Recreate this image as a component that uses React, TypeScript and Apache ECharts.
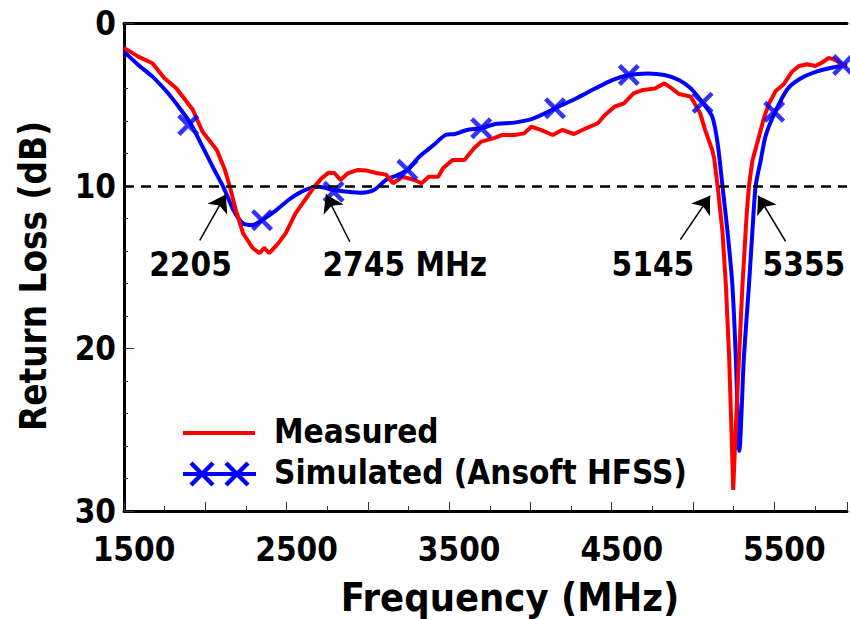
import React, { useEffect, useRef } from 'react';
import * as echarts from 'echarts';

// Measured return loss (red)
const measuredFreq = [1500, 1588, 1675, 1749, 1822, 1924, 1983, 2071, 2121, 2150, 2188, 2232, 2290, 2334, 2363, 2393, 2451, 2495, 2554, 2613, 2671, 2715, 2759, 2794, 2832, 2876, 2935, 2994, 3052, 3111, 3155, 3213, 3286, 3331, 3374, 3433, 3462, 3521, 3594, 3653, 3697, 3770, 3828, 3901, 3961, 4005, 4063, 4137, 4195, 4268, 4342, 4414, 4458, 4517, 4575, 4634, 4693, 4766, 4824, 4869, 4913, 4986, 5044, 5074, 5118, 5130, 5151, 5181, 5202, 5222, 5236, 5247, 5263, 5283, 5304, 5330, 5344, 5365, 5395, 5436, 5467, 5508, 5559, 5610, 5651, 5702, 5753, 5794, 5835, 5876, 5917, 5947];
const measuredRL = [1.5, 2.04, 2.45, 3.37, 3.99, 5.32, 6.66, 7.78, 9.02, 10.0, 11.48, 12.9, 13.8, 14.14, 13.8, 14.14, 13.5, 12.9, 11.7, 10.86, 10.04, 9.53, 9.18, 9.2, 9.63, 9.22, 9.02, 9.05, 9.2, 9.3, 9.83, 9.43, 9.63, 9.83, 9.43, 9.43, 8.91, 8.4, 8.4, 7.68, 7.27, 7.07, 6.86, 6.86, 6.76, 6.35, 6.55, 6.86, 6.55, 6.8, 6.45, 6.14, 5.63, 5.12, 4.91, 4.3, 4.09, 4.0, 3.68, 3.99, 4.34, 4.5, 5.53, 6.55, 7.78, 8.3, 10.0, 12.8, 16.1, 20.5, 24.9, 28.7, 24.9, 20.5, 16.1, 11.74, 10.0, 8.44, 7.35, 5.81, 4.93, 4.16, 3.72, 2.95, 2.62, 2.51, 2.62, 2.4, 2.12, 2.25, 2.51, 2.62];

// Simulated return loss (blue)
const simFreq = [1500, 1588, 1675, 1763, 1836, 1909, 1983, 2056, 2115, 2173, 2232, 2291, 2349, 2437, 2525, 2613, 2701, 2789, 2876, 2964, 3037, 3111, 3183, 3243, 3316, 3404, 3477, 3535, 3609, 3697, 3785, 3901, 4019, 4151, 4283, 4400, 4503, 4605, 4722, 4825, 4913, 4986, 5059, 5118, 5151, 5181, 5212, 5242, 5263, 5285, 5313, 5344, 5365, 5385, 5416, 5446, 5498, 5580, 5661, 5763, 5865, 5947];
const simRL = [1.73, 2.55, 3.27, 4.2, 5.12, 6.14, 7.58, 9.02, 10.14, 11.48, 12.3, 12.4, 12.1, 11.48, 10.76, 10.25, 10.05, 10.25, 10.35, 10.41, 10.25, 9.63, 9.32, 9.02, 8.2, 7.48, 6.86, 6.8, 6.55, 6.45, 6.18, 6.1, 5.84, 5.22, 4.6, 3.99, 3.48, 3.17, 3.07, 3.17, 3.48, 3.99, 4.87, 5.73, 7.35, 10.0, 12.8, 16.1, 20.5, 26.3, 20.5, 16.1, 12.8, 10.0, 8.44, 6.93, 5.6, 4.05, 3.39, 2.95, 2.69, 2.55];

// Simulated curve marker positions
const markerFreq = [1895, 2349, 2789, 3243, 3697, 4151, 4605, 5059, 5499, 5923];
const markerRL = [6.25, 12.1, 10.35, 9.0, 6.45, 5.22, 3.17, 4.87, 5.43, 2.55];

// Axis tick labels
const xTickLabels = [1500, 2500, 3500, 4500, 5500];
const yTickLabels = [0, 10, 20, 30];
const threshold = 10;

// Annotations
const annTexts = ['2205', '2745 MHz', '5145', '5355'];
const annLabelFreq = [1909, 3227, 4753, 5682];
const annLabelRL = [14.86, 14.86, 14.8, 14.8];
const annFromFreq = [1966, 2889, 4922, 5569];
const annFromRL = [13.35, 13.43, 13.3, 13.4];
const annToFreq = [2126, 2742, 5105, 5400];
const annToRL = [10.52, 10.52, 10.6, 10.6];

const FONT = '"DejaVu Sans Condensed", "DejaVu Sans", sans-serif';
const X_SYMBOL = 'path://M3.5,0 L12,8.5 L20.5,0 L24,3.5 L15.5,12 L24,20.5 L20.5,24 L12,15.5 L3.5,24 L0,20.5 L8.5,12 L0,3.5 Z';

export default function App() {
  const ref = useRef<HTMLDivElement>(null);
  useEffect(() => {
    if (!ref.current) return;
    const chart = echarts.init(ref.current, undefined, { renderer: 'svg' });
    const xMin = 1500;
    const xMax = 5947;
    const tickLabelStyle = { fontFamily: FONT, fontSize: 33, fontWeight: 'bold' as const, color: '#000' };
    const option: any = {
      animation: false,
      backgroundColor: '#fff',
      grid: { left: 124, top: 23.5, right: 0, bottom: 108, containLabel: false },
      xAxis: [
        {
          type: 'value', min: xMin, max: xMax, interval: 500,
          axisLine: { show: true, onZero: false, lineStyle: { color: '#000', width: 3 } },
          axisTick: { show: true, inside: true, length: 9, lineStyle: { color: '#333', width: 1 } },
          minorTick: { show: true, splitNumber: 2, length: 5, lineStyle: { color: '#333', width: 1 } },
          splitLine: { show: false },
          minorSplitLine: { show: false },
          axisLabel: {
            ...tickLabelStyle,
            margin: 22,
            padding: [0, 0, 0, 20],
            formatter: (v: number) => (xTickLabels.indexOf(v) >= 0 ? String(v) : ''),
          },
        },
        {
          type: 'value', position: 'top', min: xMin, max: xMax,
          axisLine: { show: true, onZero: false, lineStyle: { color: '#000', width: 3 } },
          axisTick: { show: false }, axisLabel: { show: false }, splitLine: { show: false },
        },
      ],
      yAxis: {
        type: 'value', inverse: true, min: 0, max: 30, interval: 10,
        axisLine: { show: true, onZero: false, lineStyle: { color: '#000', width: 3 } },
        axisTick: { show: true, inside: true, length: 10, lineStyle: { color: '#333', width: 1 } },
        minorTick: { show: true, splitNumber: 5, length: 4, lineStyle: { color: '#333', width: 1 } },
        splitLine: { show: false },
        axisLabel: {
          ...tickLabelStyle,
          margin: 8,
          formatter: (v: number) => (yTickLabels.indexOf(v) >= 0 ? String(v) : ''),
        },
      },
      series: [
        {
          name: 'Simulated (Ansoft HFSS)',
          type: 'line',
          data: simFreq.map((f, i) => [f, simRL[i]]),
          showSymbol: false,
          smooth: 0.25,
          lineStyle: { color: '#0000ff', width: 4 },
          itemStyle: { color: '#0000ff' },
          z: 2,
          markLine: {
            silent: true,
            symbol: ['none', 'none'],
            label: { show: false },
            lineStyle: { color: '#000', width: 2.5, type: [10, 7] },
            data: [{ yAxis: threshold }],
          },
        },
        {
          name: 'Measured',
          type: 'line',
          data: measuredFreq.map((f, i) => [f, measuredRL[i]]),
          showSymbol: false,
          smooth: false,
          lineStyle: { color: '#ff0000', width: 4 },
          itemStyle: { color: '#ff0000' },
          z: 3,
          markLine: {
            silent: true,
            symbol: ['none', 'arrow'],
            symbolSize: 17,
            label: { show: false },
            lineStyle: { color: '#000', width: 1.5, type: 'solid' },
            itemStyle: { color: '#000' },
            data: annTexts.map((_, i) => [
              { coord: [annFromFreq[i], annFromRL[i]] },
              { coord: [annToFreq[i], annToRL[i]] },
            ]),
          },
          markPoint: {
            silent: true,
            symbol: 'circle',
            symbolSize: 0,
            label: {
              show: true, position: 'inside', color: '#000',
              fontFamily: FONT, fontSize: 33, fontWeight: 'bold',
              formatter: (p: any) => p.name,
            },
            data: annTexts.map((t, i) => ({ name: t, coord: [annLabelFreq[i], annLabelRL[i]] })),
          },
        },
        {
          name: 'SimMarkers',
          type: 'scatter',
          data: markerFreq.map((f, i) => [f, markerRL[i]]),
          symbol: X_SYMBOL,
          symbolSize: 22,
          itemStyle: { color: '#0000ff' },
          z: 4,
        },
      ],
      graphic: [
        {
          type: 'text', x: 510, y: 597,
          style: { text: 'Frequency (MHz)', fill: '#000', fontFamily: FONT, fontSize: 39.5, fontWeight: 'bold', align: 'center', verticalAlign: 'middle' },
        },
        {
          type: 'text', x: 33, y: 276, rotation: Math.PI / 2,
          style: { text: 'Return Loss (dB)', fill: '#000', fontFamily: FONT, fontSize: 36.5, fontWeight: 'bold', align: 'center', verticalAlign: 'middle' },
        },
        { type: 'line', shape: { x1: 183, y1: 433, x2: 255, y2: 433 }, style: { stroke: '#ff0000', lineWidth: 4 } },
        {
          type: 'text', x: 274, y: 431,
          style: { text: 'Measured', fill: '#000', fontFamily: FONT, fontSize: 33, fontWeight: 'bold', align: 'left', verticalAlign: 'middle' },
        },
        { type: 'line', shape: { x1: 183, y1: 474, x2: 256, y2: 474 }, style: { stroke: '#0000ff', lineWidth: 4 } },
        { type: 'line', shape: { x1: 191, y1: 463, x2: 213, y2: 485 }, style: { stroke: '#0000ff', lineWidth: 4.5 } },
        { type: 'line', shape: { x1: 191, y1: 485, x2: 213, y2: 463 }, style: { stroke: '#0000ff', lineWidth: 4.5 } },
        { type: 'line', shape: { x1: 226, y1: 463, x2: 248, y2: 485 }, style: { stroke: '#0000ff', lineWidth: 4.5 } },
        { type: 'line', shape: { x1: 226, y1: 485, x2: 248, y2: 463 }, style: { stroke: '#0000ff', lineWidth: 4.5 } },
        {
          type: 'text', x: 274, y: 472,
          style: { text: 'Simulated (Ansoft HFSS)', fill: '#000', fontFamily: FONT, fontSize: 33, fontWeight: 'bold', align: 'left', verticalAlign: 'middle' },
        },
      ],
    };
    chart.setOption(option);
    return () => chart.dispose();
  }, []);
  return (
    <div
      ref={ref}
      style={{ position: 'absolute', left: 0, top: 0, width: 850, height: 619, background: '#fff' }}
    />
  );
}
